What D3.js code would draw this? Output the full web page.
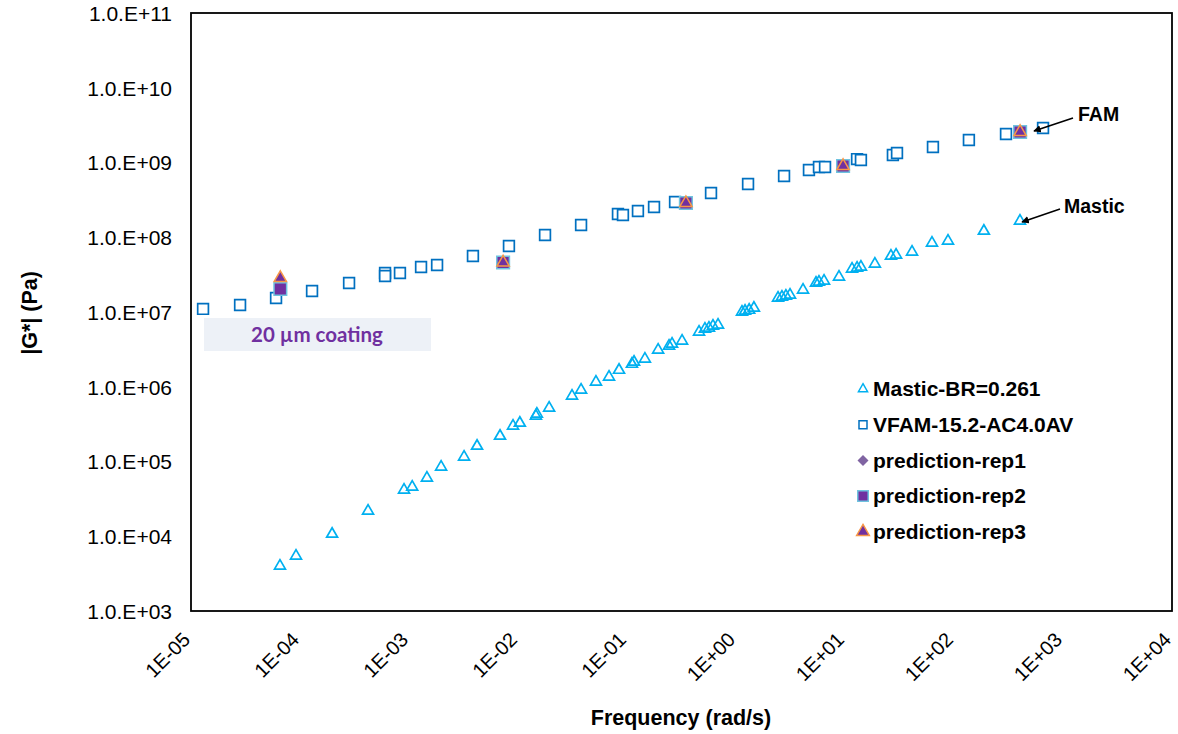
<!DOCTYPE html>
<html>
<head>
<meta charset="utf-8">
<script src="https://cdn.jsdelivr.net/npm/d3@7"></script>
<style>
  body { margin: 0; background: #fff; }
  svg text { font-family: Arial, "Liberation Sans", sans-serif; }
</style>
</head>
<body>
<svg id="chart" width="1178" height="734"></svg>
<script>
// Mastic-BR=0.261 (frequency rad/s, |G*| Pa)
const masticFreq = [6.55e-5, 9.19e-5, 1.97e-4, 4.21e-4, 9.00e-4, 1.07e-3, 1.46e-3, 1.97e-3, 3.20e-3, 4.21e-3,
    6.84e-3, 9.00e-3, 1.04e-2, 1.46e-2, 1.49e-2, 1.93e-2, 3.13e-2, 3.79e-2, 5.19e-2, 6.84e-2,
    8.45e-2, 0.111, 0.116, 0.146, 0.193, 0.243, 0.259, 0.320, 0.458, 0.519,
    0.565, 0.615, 0.684, 1.135, 1.21, 1.32, 1.46, 2.43, 2.64, 2.87,
    3.13, 4.12, 5.42, 5.77, 6.42, 8.81, 11.6, 12.9, 14.0, 18.8,
    26.4, 29.4, 41.2, 62.8, 88.1, 188, 403];
const masticG = [4.00e3, 5.44e3, 1.07e4, 2.18e4, 4.16e4, 4.56e4, 6.02e4, 8.44e4, 1.15e5, 1.61e5,
    2.19e5, 2.99e5, 3.27e5, 4.06e5, 4.32e5, 5.20e5, 7.52e5, 9.06e5, 1.16e6, 1.35e6,
    1.67e6, 2.01e6, 2.14e6, 2.35e6, 3.10e6, 3.51e6, 3.73e6, 4.09e6, 5.40e6, 5.93e6,
    6.11e6, 6.50e6, 6.70e6, 1.00e7, 1.03e7, 1.06e7, 1.13e7, 1.54e7, 1.59e7, 1.64e7,
    1.69e7, 1.97e7, 2.44e7, 2.52e7, 2.60e7, 2.94e7, 3.76e7, 3.88e7, 4.00e7, 4.39e7,
    5.61e7, 5.79e7, 6.35e7, 8.38e7, 8.91e7, 1.21e8, 1.65e8];

// VFAM-15.2-AC4.0AV
const famFreq = [1.29e-5, 2.82e-5, 6.03e-5, 1.29e-4, 2.82e-4, 6.03e-4, 6.03e-4, 8.26e-4, 1.29e-3, 1.81e-3,
    3.86e-3, 8.26e-3, 1.77e-2, 3.79e-2, 8.26e-2, 9.18e-2, 0.126, 0.177, 0.276, 0.590,
    1.29, 2.76, 4.67, 5.77, 6.56, 12.9, 14.0, 27.5, 30.0, 64.1,
    137, 300, 656];
const famG = [1.10e7, 1.24e7, 1.54e7, 1.91e7, 2.44e7, 3.33e7, 3.03e7, 3.33e7, 4.00e7, 4.26e7,
    5.61e7, 7.64e7, 1.07e8, 1.46e8, 2.05e8, 1.98e8, 2.25e8, 2.54e8, 2.96e8, 3.91e8,
    5.16e8, 6.60e8, 7.94e8, 8.71e8, 8.71e8, 1.11e9, 1.08e9, 1.26e9, 1.34e9, 1.61e9,
    2.00e9, 2.40e9, 2.90e9];

// predictions (same frequencies for all three reps)
const predFreq = [6.6e-5, 7.3e-3, 0.347, 9.6, 404];
const rep1G = [2.0e7, 4.6e7, 2.87e8, 8.98e8, 2.56e9];
const rep2G = [2.03e7, 4.6e7, 2.87e8, 8.98e8, 2.56e9];
const rep3G = [2.85e7, 4.6e7, 2.87e8, 8.98e8, 2.56e9];

const xTicks = [1e-5, 1e-4, 1e-3, 1e-2, 1e-1, 1e0, 1e1, 1e2, 1e3, 1e4];
const yTicks = [1e3, 1e4, 1e5, 1e6, 1e7, 1e8, 1e9, 1e10, 1e11];

const legendNames = ["Mastic-BR=0.261", "VFAM-15.2-AC4.0AV", "prediction-rep1", "prediction-rep2", "prediction-rep3"];

const svg = d3.select("#chart");
const plotL = 191, plotR = 1172, plotT = 13, plotB = 611;

const x = d3.scaleLog().domain([1e-5, 1e4]).range([plotL, plotR]);
const y = d3.scaleLog().domain([1e3, 1e11]).range([plotB, plotT]);

function expStr(v){
    let e = Math.round(Math.log10(v));
    return (e < 0 ? "-" : "+") + String(Math.abs(e)).padStart(2, "0");
}

// y axis labels
let yaxis = d3.axisLeft(y).tickValues(yTicks).tickSize(0).tickPadding(19)
    .tickFormat(d => "1.0.E" + expStr(d));
let gy = svg.append("g").attr("transform", `translate(${plotL},0)`).call(yaxis);
gy.select(".domain").remove();
gy.selectAll("text").attr("font-size", "21px").attr("fill", "#000").attr("dy", "0.35em");

// x axis labels, rotated
let xaxis = d3.axisBottom(x).tickValues(xTicks).tickSize(0).tickFormat(d => "1E" + expStr(d));
let gx = svg.append("g").attr("transform", `translate(0,${plotB})`).call(xaxis);
gx.select(".domain").remove();
gx.selectAll("text")
    .attr("font-size", "20px").attr("fill", "#000")
    .attr("text-anchor", "end")
    .attr("x", 0).attr("y", 0).attr("dy", "0.35em")
    .attr("transform", "translate(-5,25) rotate(-45)");

// frame
svg.append("rect")
    .attr("x", plotL).attr("y", plotT)
    .attr("width", plotR - plotL).attr("height", plotB - plotT)
    .attr("fill", "none").attr("stroke", "#000").attr("stroke-width", 1.8);

// axis titles
svg.append("text")
    .attr("x", 681).attr("y", 725)
    .attr("text-anchor", "middle").attr("font-size", "21.5px").attr("font-weight", "bold")
    .text("Frequency (rad/s)");
svg.append("text")
    .attr("transform", "translate(37,313) rotate(-90)")
    .attr("text-anchor", "middle").attr("font-size", "21.5px").attr("font-weight", "bold")
    .text("|G*| (Pa)");

// coating label box
svg.append("rect")
    .attr("x", 204).attr("y", 318).attr("width", 227).attr("height", 33)
    .attr("fill", "#edf1f7");
svg.append("text")
    .attr("x", 317).attr("y", 342)
    .attr("text-anchor", "middle").attr("font-size", "20.5px").attr("font-weight", "bold")
    .style("font-family", "Lato, 'Open Sans', sans-serif")
    .attr("fill", "#7030a0")
    .text("20 µm coating");

const tri = d3.symbol().type(d3.symbolTriangle);
const sq = d3.symbol().type(d3.symbolSquare);

// mastic
svg.append("g").selectAll("path")
    .data(masticFreq.map((f, i) => [f, masticG[i]]))
    .join("path")
    .attr("d", tri.size(52)())
    .attr("transform", d => `translate(${x(d[0])},${y(d[1])})`)
    .attr("fill", "none").attr("stroke", "#00b0f0").attr("stroke-width", 1.7);

// FAM
svg.append("g").selectAll("path")
    .data(famFreq.map((f, i) => [f, famG[i]]))
    .join("path")
    .attr("d", sq.size(115)())
    .attr("transform", d => `translate(${x(d[0])},${y(d[1])})`)
    .attr("fill", "#fff").attr("stroke", "#0070c0").attr("stroke-width", 1.7);

// predictions (rep1 diamond = rotated square)
svg.append("g").selectAll("path")
    .data(predFreq.map((f, i) => [f, rep1G[i]]))
    .join("path")
    .attr("d", sq.size(70)())
    .attr("transform", d => `translate(${x(d[0])},${y(d[1])}) rotate(45)`)
    .attr("fill", "#8064a2");
svg.append("g").selectAll("path")
    .data(predFreq.map((f, i) => [f, rep2G[i]]))
    .join("path")
    .attr("d", sq.size(160)())
    .attr("transform", d => `translate(${x(d[0])},${y(d[1])})`)
    .attr("fill", "#7030a0").attr("stroke", "#6fc3df").attr("stroke-width", 1.5);
svg.append("g").selectAll("path")
    .data(predFreq.map((f, i) => [f, rep3G[i]]))
    .join("path")
    .attr("d", tri.size(66)())
    .attr("transform", d => `translate(${x(d[0])},${y(d[1])})`)
    .attr("fill", "#7030a0").attr("stroke", "#f79646").attr("stroke-width", 1.5);

// legend
const legend = svg.append("g").attr("transform", "translate(863,389)");
legendNames.forEach((name, i) => {
    let row = legend.append("g").attr("transform", `translate(0,${i * 35.7})`);
    if (i == 0) row.append("path").attr("d", tri.size(36)()).attr("fill", "none").attr("stroke", "#00b0f0").attr("stroke-width", 1.5);
    if (i == 1) row.append("path").attr("d", sq.size(64)()).attr("fill", "#fff").attr("stroke", "#0070c0").attr("stroke-width", 1.5);
    if (i == 2) row.append("path").attr("d", sq.size(60)()).attr("transform", "rotate(45)").attr("fill", "#8064a2");
    if (i == 3) row.append("path").attr("d", sq.size(110)()).attr("fill", "#7030a0").attr("stroke", "#6fc3df").attr("stroke-width", 1.5);
    if (i == 4) row.append("path").attr("d", tri.size(70)()).attr("fill", "#7030a0").attr("stroke", "#f79646").attr("stroke-width", 1.5);
    row.append("text")
        .attr("x", 10).attr("y", 0).attr("dy", "0.35em")
        .attr("font-size", "21px").attr("font-weight", "bold")
        .text(name);
});

// annotations
svg.append("defs").append("marker")
    .attr("id", "arrow").attr("viewBox", "0 0 10 10")
    .attr("refX", 9).attr("refY", 5)
    .attr("markerWidth", 5).attr("markerHeight", 5)
    .attr("orient", "auto")
    .append("path").attr("d", "M0,0 L10,5 L0,10 z").attr("fill", "#000");

svg.append("line")
    .attr("x1", 1073).attr("y1", 118).attr("x2", 1034).attr("y2", 131)
    .attr("stroke", "#000").attr("stroke-width", 1.5).attr("marker-end", "url(#arrow)");
svg.append("text").attr("x", 1078).attr("y", 121)
    .attr("font-size", "19.5px").attr("font-weight", "bold").text("FAM");

svg.append("line")
    .attr("x1", 1060).attr("y1", 209).attr("x2", 1022).attr("y2", 222)
    .attr("stroke", "#000").attr("stroke-width", 1.5).attr("marker-end", "url(#arrow)");
svg.append("text").attr("x", 1064).attr("y", 213)
    .attr("font-size", "19.5px").attr("font-weight", "bold").text("Mastic");
</script>
</body>
</html>
